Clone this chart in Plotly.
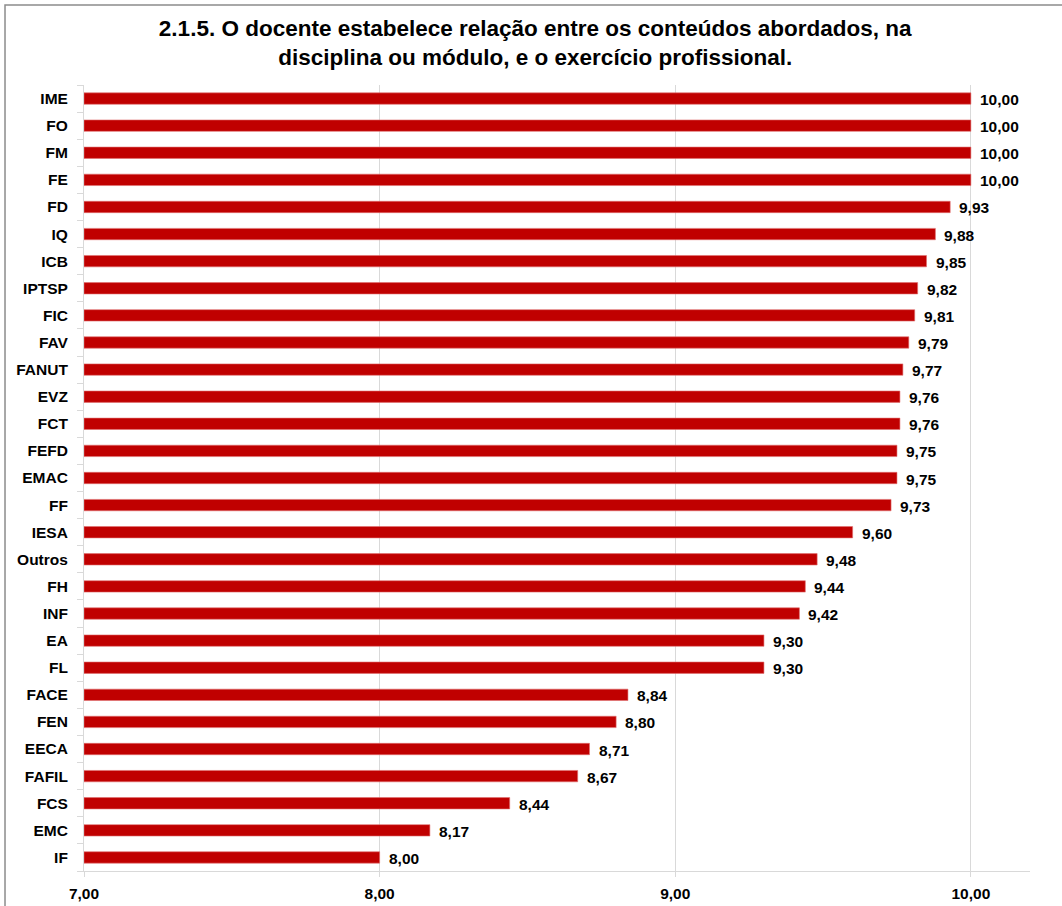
import plotly.graph_objects as go

# Average score per unit, listed top to bottom
units = ["IME", "FO", "FM", "FE", "FD", "IQ", "ICB", "IPTSP", "FIC", "FAV",
         "FANUT", "EVZ", "FCT", "FEFD", "EMAC", "FF", "IESA", "Outros", "FH",
         "INF", "EA", "FL", "FACE", "FEN", "EECA", "FAFIL", "FCS", "EMC", "IF"]
scores = [10.00, 10.00, 10.00, 10.00, 9.93, 9.88, 9.85, 9.82, 9.81, 9.79,
          9.77, 9.76, 9.76, 9.75, 9.75, 9.73, 9.60, 9.48, 9.44,
          9.42, 9.30, 9.30, 8.84, 8.80, 8.71, 8.67, 8.44, 8.17, 8.00]
x_ticks = [7, 8, 9, 10]
x_tick_labels = ["7,00", "8,00", "9,00", "10,00"]

title_text = ("2.1.5. O docente estabelece relação entre os conteúdos abordados, na<br>"
              "disciplina ou módulo, e o exercício profissional.")

FONT = "Liberation Sans, Arial, sans-serif"
BAR_COLOR = "#C00000"
GRID = "#D9D9D9"
LABEL_SIZE = 15.5


def fmt(v):
    return f"{v:.2f}".replace(".", ",")


fig = go.Figure()
fig.add_trace(go.Bar(
    x=[s - 7 for s in scores],
    base=7,
    y=units,
    orientation="h",
    marker=dict(color=BAR_COLOR, line=dict(color="#E07070", width=0.6)),
    width=0.42,
    hoverinfo="skip",
))

# Value labels to the right of each bar
for u, s in zip(units, scores):
    fig.add_annotation(
        x=s, y=u, xref="x", yref="y",
        text=f"<b>{fmt(s)}</b>",
        showarrow=False, xanchor="left", yanchor="middle",
        xshift=7, yshift=-1,
        font=dict(family=FONT, size=LABEL_SIZE, color="#000000"),
    )

# Outer frame of the chart
fig.add_shape(
    type="rect", xref="paper", yref="paper",
    x0=-0.0835, x1=1.3, y0=-0.3, y1=1.1018,
    line=dict(color="#8C8C8C", width=1.5),
    fillcolor="rgba(0,0,0,0)", layer="below",
)

fig.update_layout(
    width=1062, height=906,
    margin=dict(l=84, r=32, t=85, b=35),
    paper_bgcolor="white", plot_bgcolor="white",
    showlegend=False,
    title=dict(
        text=f"<b>{title_text}</b>",
        x=0.504, xanchor="center", xref="container",
        y=0.96, yanchor="middle", yref="container",
        font=dict(family=FONT, size=22.5, color="#000000"),
    ),
    bargap=0.58,
)

fig.update_xaxes(
    range=[7, 10.2],
    automargin=False,
    tickvals=x_ticks, ticktext=[f"<b>{t}</b>" for t in x_tick_labels],
    showgrid=True, gridcolor=GRID, gridwidth=1,
    showline=True, linecolor=GRID, linewidth=1,
    ticks="outside", ticklen=5, tickcolor=GRID,
    ticklabelstandoff=3,
    tickfont=dict(family=FONT, size=LABEL_SIZE, color="#000000"),
    zeroline=False, fixedrange=True,
)
fig.update_yaxes(
    categoryorder="array", categoryarray=units[::-1],
    automargin=False,
    ticktext=[f"<b>{u}</b>" for u in units[::-1]],
    tickvals=units[::-1],
    showline=True, linecolor=GRID, linewidth=1,
    ticks="outside", ticklen=6, tickcolor=GRID, tickson="boundaries",
    ticklabelstandoff=12,
    showgrid=False,
    tickfont=dict(family=FONT, size=LABEL_SIZE, color="#000000"),
    fixedrange=True,
)

fig.write_html("out.html")
